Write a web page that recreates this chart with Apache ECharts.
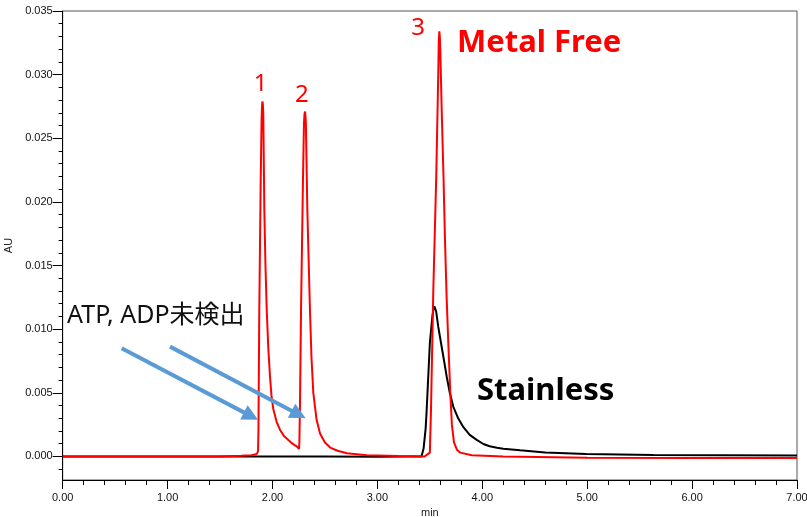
<!DOCTYPE html>
<html><head><meta charset="utf-8">
<script src="https://cdn.jsdelivr.net/npm/echarts@6/dist/echarts.min.js"></script>
<style>html,body{margin:0;padding:0;background:#fff}#c{width:807px;height:517px}</style>
</head><body><div id="c"></div>
<script>
// Metal Free (red) trace: retention time (min) and absorbance (AU)
const metalX = [0, 0.5, 1.0, 1.5, 1.7, 1.80, 1.85, 1.862, 1.866, 1.874, 1.888, 1.896, 1.900, 1.904, 1.908, 1.912, 1.922, 1.933, 1.945, 1.96, 1.976, 1.99, 2.008, 2.04, 2.071, 2.11, 2.151, 2.19, 2.23, 2.252,
  2.256, 2.262, 2.272, 2.291, 2.300, 2.305, 2.310, 2.314, 2.318, 2.332, 2.357, 2.372, 2.389, 2.42, 2.453, 2.5, 2.55, 2.62, 2.71, 2.9, 3.2, 3.45,
  3.50, 3.511, 3.533, 3.561, 3.58, 3.585, 3.590, 3.595, 3.600, 3.613, 3.63, 3.645, 3.66, 3.676, 3.695, 3.71, 3.73, 3.76, 3.79, 3.9, 4.2, 5.0, 6.0, 7.0];
const metalY = [0, 0, 0, 0, 0.00005, 0.0001, 0.0002, 0.0004, 0.002, 0.0115, 0.022, 0.0265, 0.0275, 0.0279, 0.0277, 0.0270, 0.0194, 0.0150, 0.0115, 0.0085, 0.0063, 0.0048, 0.0037, 0.0027, 0.0021, 0.0016, 0.0013, 0.0010, 0.0008, 0.0006,
  0.0010, 0.0040, 0.0115, 0.0220, 0.0262, 0.0269, 0.0271, 0.0268, 0.0262, 0.0194, 0.0115, 0.0077, 0.0050, 0.0029, 0.0018, 0.0011, 0.0007, 0.00045, 0.00025, 0.0001, 0.00003, 0,
  0.0003, 0.0037, 0.0131, 0.0220, 0.0300, 0.0325, 0.0334, 0.0330, 0.0318, 0.0272, 0.0220, 0.0168, 0.0125, 0.0089, 0.0050, 0.0025, 0.0011, 0.0005, 0.0003, 0.0001, 0, -0.0001, -0.00012, -0.00012];
// Stainless (black) trace
const steelX = [0, 0.5, 1.0, 1.5, 2.0, 2.5, 3.0, 3.3, 3.42, 3.44, 3.46, 3.47, 3.50, 3.524, 3.535, 3.543, 3.55, 3.56, 3.58, 3.613, 3.64, 3.66, 3.69, 3.724, 3.77, 3.82, 3.88, 3.947, 4.01, 4.07, 4.14, 4.2, 4.36, 4.6, 4.99, 5.63, 6.3, 7.0];
const steelY = [0, 0, 0, 0, 0, 0, -0.00003, 0, 0, 0.0006, 0.0022, 0.0037, 0.0089, 0.0110, 0.0116, 0.0118, 0.0117, 0.0114, 0.0102, 0.0086, 0.0073, 0.0063, 0.0050, 0.0039, 0.0030, 0.0023, 0.0017, 0.0013, 0.00098, 0.00080, 0.00068, 0.0006, 0.00048, 0.00032, 0.0002, 0.00012, 0.0001, 0.00007];
// Axis ticks
const yMajorTicks = [0, 0.005, 0.010, 0.015, 0.020, 0.025, 0.030, 0.035];
const yMinorTicks = [-0.001, 0.001, 0.002, 0.003, 0.004, 0.006, 0.007, 0.008, 0.009, 0.011, 0.012, 0.013, 0.014, 0.016, 0.017, 0.018, 0.019, 0.021, 0.022, 0.023, 0.024, 0.026, 0.027, 0.028, 0.029, 0.031, 0.032, 0.033, 0.034];
// Peak labels [x, y, text]
const peakLabels = [[1.886, 0.02929, '1'], [2.28, 0.02842, '2'], [3.387, 0.03366, '3']];
// Arrows (start x, start y, end x, end y)
const arrows = [[0.562, 0.00851, 1.795, 0.00317], [1.023, 0.00863, 2.249, 0.00330]];

const chart = echarts.init(document.getElementById('c'));
const zip = (xs, ys) => xs.map((x, i) => [x, ys[i]]);
const YMIN = -0.00185, YMAX = 0.035;
chart.setOption({
  animation: false,
  backgroundColor: '#fff',
  grid: { left: 62.7, right: 10, top: 11, bottom: 37, show: true, borderColor: '#555', borderWidth: 1, backgroundColor: 'transparent', containLabel: false, outerBoundsMode: 'none' },
  xAxis: {
    type: 'value', min: 0, max: 7, interval: 1,
    name: 'min', nameLocation: 'middle', nameGap: 25,
    nameTextStyle: { fontFamily: 'Liberation Sans', fontSize: 11, color: '#222' },
    axisLine: { onZero: false, lineStyle: { color: '#000' } },
    axisTick: { length: 9, lineStyle: { color: '#000' } },
    minorTick: { show: true, splitNumber: 5, length: 5, lineStyle: { color: '#000' } },
    splitLine: { show: false },
    axisLabel: { fontFamily: 'Liberation Sans', fontSize: 11, color: '#111', margin: 12, formatter: v => v.toFixed(2) }
  },
  yAxis: [{
    type: 'value', min: YMIN, max: YMAX,
    name: 'AU', nameLocation: 'middle', nameGap: 42, nameRotate: 90,
    nameTextStyle: { fontFamily: 'Liberation Sans', fontSize: 11, color: '#222' },
    axisLine: { show: true, onZero: false, lineStyle: { color: '#000' } },
    axisTick: { show: true, length: 10, customValues: yMajorTicks, lineStyle: { color: '#000' } },
    axisLabel: { customValues: yMajorTicks, fontFamily: 'Liberation Sans', fontSize: 11, color: '#111', margin: 10, formatter: v => v.toFixed(3) },
    splitLine: { show: false }
  }, {
    type: 'value', min: YMIN, max: YMAX, position: 'left',
    axisLine: { show: false, onZero: false },
    axisTick: { show: true, length: 4, customValues: yMinorTicks, lineStyle: { color: '#000' } },
    axisLabel: { show: false },
    splitLine: { show: false }
  }],
  series: [{
    name: 'Stainless', type: 'line', data: zip(steelX, steelY), showSymbol: false,
    lineStyle: { color: '#000', width: 2 }, z: 2
  }, {
    name: 'Metal Free', type: 'line', data: zip(metalX, metalY), showSymbol: false,
    lineStyle: { color: '#ff0000', width: 2 }, z: 3,
    markLine: {
      silent: true, symbol: ['none', 'triangle'], symbolSize: 16,
      lineStyle: { color: '#5B9BD5', width: 4, type: 'solid', opacity: 1 },
      label: { show: false },
      data: arrows.map(a => [{ coord: [a[0], a[1]] }, { coord: [a[2], a[3]] }])
    },
    markPoint: {
      silent: true, symbol: 'circle', symbolSize: 0,
      label: { show: true, color: '#ff0000', fontFamily: 'Noto Sans', fontSize: 24, formatter: p => p.name },
      data: peakLabels.map(p => ({ coord: [p[0], p[1]], name: p[2] }))
    }
  }],
  graphic: [
    { type: 'text', left: 457, top: 28, style: { text: 'Metal Free', fill: '#ff0000', font: 'bold 31px "Noto Sans"' } },
    { type: 'text', left: 477, top: 376, style: { text: 'Stainless', fill: '#000', font: 'bold 31px "Noto Sans"' } },
    { type: 'text', left: 67, top: 303, style: { text: 'ATP, ADP未検出', fill: '#111', font: '25px "Noto Sans", "Noto Sans CJK JP"' } }
  ]
});
</script></body></html>
